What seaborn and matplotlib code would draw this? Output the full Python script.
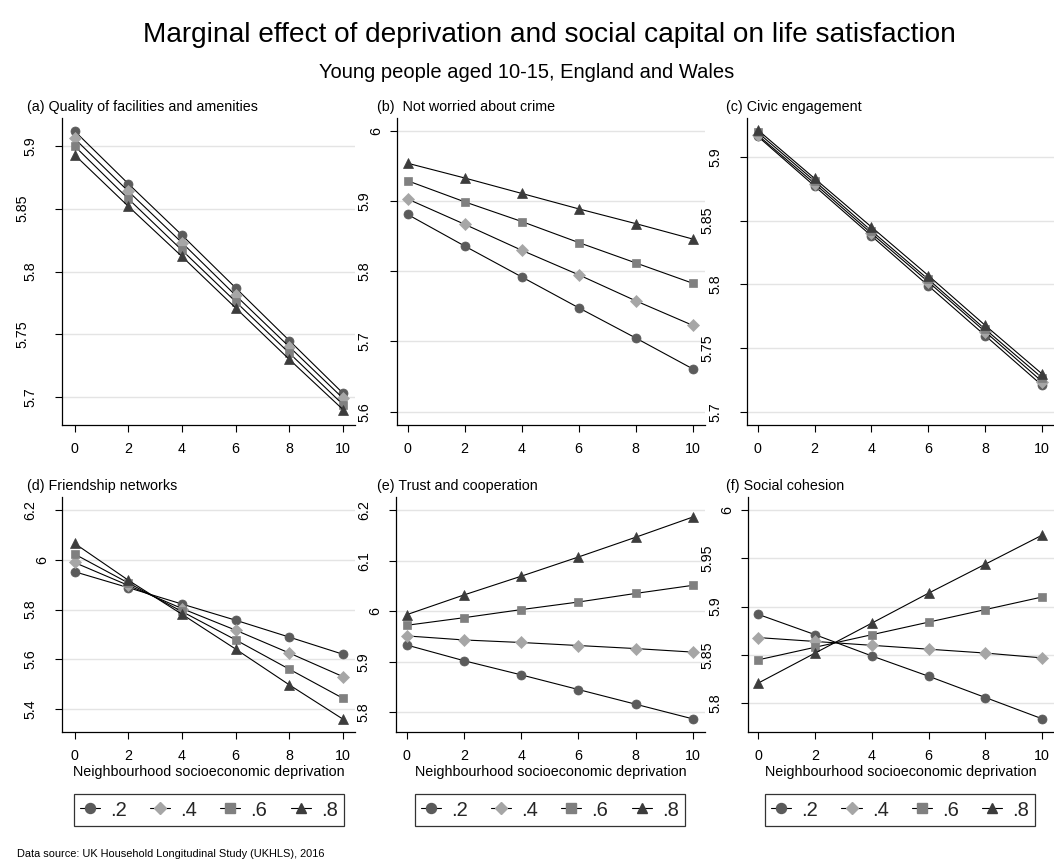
import numpy as np
import pandas as pd
import matplotlib
matplotlib.use("Agg")
import matplotlib.pyplot as plt
import seaborn as sns
from matplotlib.lines import Line2D

# ---------------- data ----------------
deprivation = [0, 2, 4, 6, 8, 10]
levels = [".2", ".4", ".6", ".8"]

facilities = [
    [5.912, 5.870, 5.829, 5.787, 5.745, 5.703],
    [5.906, 5.864, 5.823, 5.781, 5.740, 5.699],
    [5.900, 5.858, 5.817, 5.776, 5.735, 5.694],
    [5.893, 5.852, 5.812, 5.771, 5.730, 5.690],
]
crime = [
    [5.881, 5.836, 5.792, 5.748, 5.705, 5.661],
    [5.903, 5.867, 5.830, 5.795, 5.758, 5.723],
    [5.929, 5.899, 5.871, 5.841, 5.812, 5.783],
    [5.954, 5.933, 5.911, 5.889, 5.868, 5.846],
]
civic = [
    [5.916, 5.877, 5.838, 5.799, 5.760, 5.721],
    [5.917, 5.879, 5.840, 5.802, 5.763, 5.724],
    [5.919, 5.881, 5.842, 5.804, 5.765, 5.727],
    [5.921, 5.883, 5.845, 5.807, 5.768, 5.730],
]
friendship = [
    [5.952, 5.888, 5.822, 5.757, 5.689, 5.620],
    [5.989, 5.897, 5.804, 5.717, 5.625, 5.530],
    [6.023, 5.907, 5.792, 5.678, 5.560, 5.443],
    [6.066, 5.918, 5.781, 5.641, 5.497, 5.359],
]
trust = [
    [5.933, 5.902, 5.874, 5.845, 5.816, 5.787],
    [5.951, 5.943, 5.938, 5.932, 5.926, 5.919],
    [5.972, 5.987, 6.003, 6.018, 6.035, 6.051],
    [5.993, 6.032, 6.069, 6.107, 6.146, 6.186],
]
cohesion = [
    [5.892, 5.871, 5.849, 5.828, 5.806, 5.784],
    [5.868, 5.864, 5.860, 5.856, 5.852, 5.847],
    [5.845, 5.858, 5.871, 5.884, 5.897, 5.910],
    [5.821, 5.852, 5.883, 5.914, 5.944, 5.974],
]

panel_titles = [
    "(a) Quality of facilities and amenities",
    "(b)  Not worried about crime",
    "(c) Civic engagement",
    "(d) Friendship networks",
    "(e) Trust and cooperation",
    "(f) Social cohesion",
]
ytick_a = ["5.7", "5.75", "5.8", "5.85", "5.9"]
ytick_b = ["5.6", "5.7", "5.8", "5.9", "6"]
ytick_c = ["5.7", "5.75", "5.8", "5.85", "5.9"]
ytick_d = ["5.4", "5.6", "5.8", "6", "6.2"]
ytick_e = ["5.8", "5.9", "6", "6.1", "6.2"]
ytick_f = ["5.8", "5.85", "5.9", "5.95", "6"]
xticks = [0, 2, 4, 6, 8, 10]

title = "Marginal effect of deprivation and social capital on life satisfaction"
subtitle = "Young people aged 10-15, England and Wales"
xlabel = "Neighbourhood socioeconomic deprivation"
source = "Data source: UK Household Longitudinal Study (UKHLS), 2016"

# ---------------- style ----------------
sns.set_theme(style="ticks")
plt.rcParams["font.family"] = ["Liberation Sans", "DejaVu Sans"]

W, H = 1054, 860
DPI = 100
fig = plt.figure(figsize=(W / DPI, H / DPI), dpi=DPI)
fig.patch.set_facecolor("white")

def fx(px):
    return px / W

def fy(py):
    return 1 - py / H

markers = ["o", "D", "s", "^"]
mcolors = ["#5b5b5b", "#a6a6a6", "#808080", "#3c3c3c"]
msizes = [6.5, 5.9, 6.4, 7.2]

# axes geometry in pixels: (left, right, top, bottom)
geoms = [
    (62, 355, 118, 425), (396.7, 705, 118, 425), (747, 1054, 118, 425),
    (62, 355, 497, 732), (395.7, 705, 497, 732), (747.7, 1054, 497, 732),
]
xlims = [(-0.466, 10.447), (-0.386, 10.43), (-0.376, 10.42)]
ylims = [(5.6777, 5.9223), (5.581, 6.0185), (5.690, 5.9303),
         (5.3075, 6.2523), (5.761, 6.2257), (5.7703, 6.0135)]
title_x = [27, 377, 726]
title_base = [111, 490]

datasets = [facilities, crime, civic, friendship, trust, cohesion]
yticklabs = [ytick_a, ytick_b, ytick_c, ytick_d, ytick_e, ytick_f]

FS = 10.3
fs_px = FS * DPI / 72
TICKLEN = 5.0
em = {"0": .556, "1": .556, "2": .556, "3": .556, "4": .556, "5": .556,
      "6": .556, "7": .556, "8": .556, "9": .556, ".": .278}

for i, (data, labs) in enumerate(zip(datasets, yticklabs)):
    l, r, t, b = geoms[i]
    ax = fig.add_axes([fx(l), fy(b), (r - l) / W, (b - t) / H])
    ax.set_facecolor("white")
    rows = []
    for lev, vals in zip(levels, data):
        for x, v in zip(deprivation, vals):
            rows.append({"dep": x, "ls": v, "level": lev})
    df = pd.DataFrame(rows)
    for k, lev in enumerate(levels):
        sns.lineplot(data=df[df["level"] == lev], x="dep", y="ls", ax=ax,
                     color="black", linewidth=0.8, marker=markers[k],
                     markersize=msizes[k], markerfacecolor=mcolors[k],
                     markeredgecolor=mcolors[k], markeredgewidth=0.5,
                     estimator=None, sort=False, zorder=3 + k)
    ax.set_xlim(*xlims[i % 3])
    ax.set_ylim(*ylims[i])
    ax.set_xticks(xticks, [str(x) for x in xticks])
    yt = [float(s) for s in labs]
    ax.set_yticks(yt, labs, rotation=90, ha="center", va="center")
    ax.yaxis.grid(True, color="#e4e4e4", linewidth=1.0, zorder=0)
    ax.xaxis.grid(False)
    ax.set_axisbelow(True)
    for s in ["top", "right"]:
        ax.spines[s].set_visible(False)
    for s in ["left", "bottom"]:
        ax.spines[s].set_color("black")
        ax.spines[s].set_linewidth(0.9)
    ax.tick_params(axis="both", direction="out", length=TICKLEN, width=0.8,
                   color="black", labelsize=FS, labelcolor="black")
    ax.tick_params(axis="x", pad=7)
    # Stata-like placement of rotated y labels
    for tick, lab in zip(ax.yaxis.get_major_ticks(), labs):
        w_px = sum(em[c] for c in lab) * fs_px
        center_px = 12 + w_px
        pad_pt = (center_px - TICKLEN * DPI / 72) * 72 / DPI
        tick.set_pad(pad_pt)
    ax.set_ylabel("")
    if i >= 3:
        ax.set_xlabel(xlabel, fontsize=FS, labelpad=1.5, color="black")
    else:
        ax.set_xlabel("")
    # panel title
    fig.text(fx(title_x[i % 3]), fy(title_base[i // 3]), panel_titles[i],
             fontsize=FS, ha="left", va="baseline", color="black")
    # legend for bottom row
    if i >= 3:
        handles = [Line2D([], [], color="black", linewidth=0.8, marker=markers[k],
                          markersize=msizes[k] + 0.7, markerfacecolor=mcolors[k],
                          markeredgecolor=mcolors[k]) for k in range(4)]
        xl = xlims[i % 3]
        ppu = (r - l) / (xl[1] - xl[0])
        xz = l + (0 - xl[0]) * ppu
        xt = l + (10 - xl[0]) * ppu
        cx = (xz + xt) / 2
        lw = 270
        leg = ax.legend(handles, levels, ncol=4, loc="center",
                        bbox_to_anchor=(fx(cx - lw / 2), fy(829), lw / W, 38 / H),
                        bbox_transform=fig.transFigure, mode="expand",
                        frameon=True, fancybox=False, fontsize=14.5,
                        handlelength=1.0, handletextpad=0.5, borderpad=0.3,
                        borderaxespad=0, columnspacing=1.0)
        leg.get_frame().set_edgecolor("black")
        leg.get_frame().set_linewidth(0.9)

fig.text(fx(549), fy(42), title, fontsize=20.2, ha="center", va="baseline", color="black")
fig.text(fx(527), fy(78), subtitle, fontsize=14.5, ha="center", va="baseline", color="black")
fig.text(fx(17), fy(857), source, fontsize=7.9, ha="left", va="baseline", color="black")

fig.savefig("out.png", dpi=DPI, facecolor="white")
